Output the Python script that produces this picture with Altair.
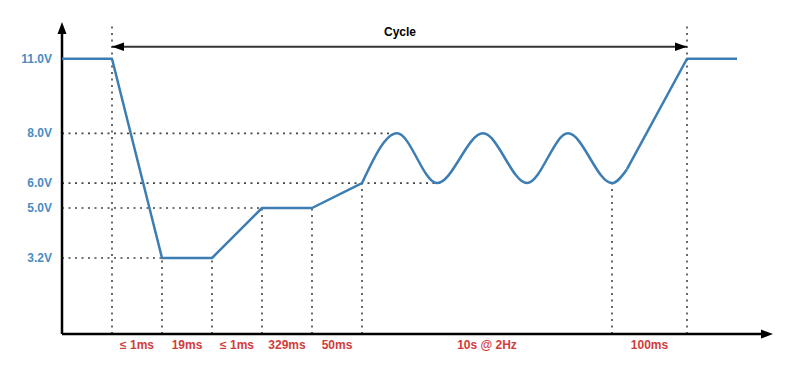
import altair as alt
import pandas as pd

# ---- data (schematic units: x in segment units, y in volts) ----
level_values = [11.0, 8.0, 6.0, 5.0, 3.2]
level_labels = ["11.0V", "8.0V", "6.0V", "5.0V", "3.2V"]

step_x = [0, 1, 2, 3, 4, 5, 6]
step_v = [11.0, 11.0, 3.2, 3.2, 5.0, 5.0, 6.0]

wave_x = [6, 6.7, 7.5, 8.42, 9.3, 10.12, 11.0, 11.3]
wave_v = [6.0, 8.0, 6.0, 8.0, 6.0, 8.0, 6.0, 6.56]

ramp_x = [11.3, 12.5, 13.5]
ramp_v = [6.56, 11.0, 11.0]

marker_x = [1, 2, 3, 4, 5, 6, 11, 12.5]
marker_top = [12.48, 3.2, 3.2, 5.0, 5.0, 6.0, 6.0, 12.48]

guide_v = [8.0, 6.0, 5.0, 3.2]
guide_end = [6.6, 7.45, 4.0, 2.0]

seg_mid = [1.5, 2.5, 3.5, 4.5, 5.5, 8.5, 11.75]
seg_labels = ["≤ 1ms", "19ms", "≤ 1ms", "329ms", "50ms", "10s @ 2Hz", "100ms"]

cycle_start, cycle_end, cycle_level = 1.0, 12.5, 11.48
cycle_label = "Cycle"

# ---- scales ----
xs = alt.Scale(domain=[-1.08, 14.6], nice=False, zero=False)
# schematic (piecewise) voltage axis, as in the drawing
ys = alt.Scale(domain=[-1.32, 0, 3.2, 5, 13.04], range=[359, 326, 250, 200, 0], nice=False, zero=False)

def X(f="x"):
    return alt.X(f, type="quantitative", scale=xs, axis=None)

def Y(f="v"):
    return alt.Y(f, type="quantitative", scale=ys, axis=None)

LINE = "#3c7db4"
DOT = "#444444"

step_df = pd.DataFrame({"x": step_x, "v": step_v})
wave_df = pd.DataFrame({"x": wave_x, "v": wave_v})
ramp_df = pd.DataFrame({"x": ramp_x, "v": ramp_v})
mark_df = pd.DataFrame({"x": marker_x, "top": marker_top, "bot": [0.0] * len(marker_x)})
guide_df = pd.DataFrame({"v": guide_v, "x0": [0.0] * len(guide_v), "x1": guide_end})
ylab_df = pd.DataFrame({"v": level_values, "label": level_labels, "x": [-0.2] * len(level_values)})
xlab_df = pd.DataFrame({"x": seg_mid, "label": seg_labels, "v": [-0.44] * len(seg_mid)})

vguides = alt.Chart(mark_df).mark_rule(color=DOT, strokeWidth=1.6, strokeDash=[2, 4.5]).encode(
    x=X("x"), y=Y("bot"), y2="top"
)
hguides = alt.Chart(guide_df).mark_rule(color=DOT, strokeWidth=1.6, strokeDash=[2, 4.5]).encode(
    x=X("x0"), x2="x1", y=Y("v")
)

axes_df = pd.DataFrame({"x0": [0.0, 0.0], "x1": [0.0, 14.0], "v0": [0.0, 0.0], "v1": [12.2, 0.0]})
axes = alt.Chart(axes_df).mark_rule(color="black", strokeWidth=2.5).encode(
    x=X("x0"), x2="x1", y=Y("v0"), y2="v1"
)
arrow_up = alt.Chart(pd.DataFrame({"x": [0.0], "v": [12.24]})).mark_point(
    shape="M0,-1L-0.75,1L0.75,1Z", filled=True, color="black", opacity=1, size=144
).encode(x=X(), y=Y())
arrow_right = alt.Chart(pd.DataFrame({"x": [14.1], "v": [0.0]})).mark_point(
    shape="M1,0L-1,-0.75L-1,0.75Z", filled=True, color="black", opacity=1, size=144
).encode(x=X(), y=Y())

cycle_df = pd.DataFrame({"x0": [cycle_start], "x1": [cycle_end], "v": [cycle_level]})
cycle_rule = alt.Chart(cycle_df).mark_rule(color="#333333", strokeWidth=2).encode(
    x=X("x0"), x2="x1", y=Y("v")
)
cycle_left = alt.Chart(pd.DataFrame({"x": [cycle_start + 0.12], "v": [cycle_level]})).mark_point(
    shape="M-1,0L1,-0.7L1,0.7Z", filled=True, color="black", opacity=1, size=144
).encode(x=X(), y=Y())
cycle_right = alt.Chart(pd.DataFrame({"x": [cycle_end - 0.12], "v": [cycle_level]})).mark_point(
    shape="M1,0L-1,-0.7L-1,0.7Z", filled=True, color="black", opacity=1, size=144
).encode(x=X(), y=Y())
cycle_text = alt.Chart(pd.DataFrame({"x": [6.76], "v": [12.06], "label": [cycle_label]})).mark_text(
    font="Liberation Sans", fontWeight="bold", fontSize=12, color="black", baseline="middle"
).encode(x=X(), y=Y(), text="label:N")

step_line = alt.Chart(step_df).mark_line(color=LINE, strokeWidth=2.5, strokeJoin="round").encode(x=X(), y=Y())
wave_line = alt.Chart(wave_df).mark_line(color=LINE, strokeWidth=2.5, interpolate="monotone").encode(x=X(), y=Y())
ramp_line = alt.Chart(ramp_df).mark_line(color=LINE, strokeWidth=2.5, strokeJoin="round").encode(x=X(), y=Y())

ylabels = alt.Chart(ylab_df).mark_text(
    font="Liberation Sans", fontWeight="bold", fontSize=12, color="#4a8cc2", align="right", baseline="middle"
).encode(x=X(), y=Y(), text="label:N")
xlabels = alt.Chart(xlab_df).mark_text(
    font="Liberation Sans", fontWeight="bold", fontSize=12, color="#d23c3c", align="center", baseline="middle"
).encode(x=X(), y=Y(), text="label:N")

chart = alt.layer(
    vguides, hguides, axes, arrow_up, arrow_right,
    cycle_rule, cycle_left, cycle_right, cycle_text,
    step_line, wave_line, ramp_line, ylabels, xlabels
).properties(
    width=784, height=359,
    autosize=alt.AutoSizeParams(type="none"),
    padding=0,
).configure_view(stroke=None)

chart.save("out.html", embed_options={"renderer": "svg", "actions": False})
